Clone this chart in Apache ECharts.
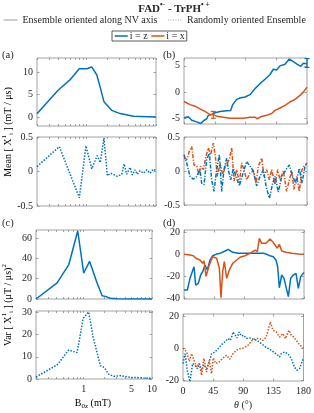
<!DOCTYPE html>
<html><head><meta charset="utf-8">
<script src="https://cdn.jsdelivr.net/npm/echarts@6/dist/echarts.min.js"></script>
<style>html,body{margin:0;padding:0;background:#fff}#c{width:314px;height:413px}</style>
</head><body><div id="c"></div>
<script>
// ---------------- DATA ----------------
// (a) Mean, oriented ensemble (i = z)
const aOriB   = [0.2, 0.4, 0.59, 0.8, 1.03, 1.21, 1.43, 1.59, 1.81, 2.02, 2.33, 3.07, 4.75, 10];
const aOriVal = [0.75, 6.0, 8.3, 10.8, 10.8, 11.2, 9.4, 6.75, 3.4, 2.6, 1.5, 0.77, 0.2, 0.0];
// (a) Mean, random ensemble
const aRndB   = [0.2, 0.417, 0.804, 1.0, 1.21, 1.45, 1.6, 1.81, 2.02, 2.26, 2.81, 3.24, 3.5, 3.82, 4.26, 4.59, 5.02, 5.42, 5.92, 6.6, 7.38, 8.22, 9.17, 10];
const aRndVal = [0.07, 0.36, -0.38, 0.37, 0.04, 0.23, 0.13, 0.485, -0.06, -0.025, -0.07, -0.04, 0.11, -0.04, 0.06, -0.05, 0.025, -0.04, 0.01, -0.025, 0.025, -0.025, 0.035, 0.01];
// (c) Var, oriented ensemble
const cOriB   = [0.2, 0.408, 0.604, 0.817, 1.0, 1.22, 1.57, 1.86, 2.07, 2.45, 3.0, 5.0, 10];
const cOriVal = [0, 15.8, 33.8, 67, 25.6, 37, 15.8, 3.2, 2.6, 0.7, 0.3, 0.1, 0.05];
// (c) Var, random ensemble
const cRndB   = [0.2, 0.408, 0.604, 0.80, 0.98, 1.18, 1.37, 1.75, 2.0, 2.32, 2.74, 3.44, 4.07, 4.82, 6.04, 7.55, 10];
const cRndVal = [0.9, 6.4, 13.1, 11.9, 27.3, 30.3, 19.1, 6.0, 5.2, 2.2, 1.2, 1.5, 1.2, 0.7, 0.7, 0.4, 0.2];

// (b) Mean vs theta, oriented
const bOriZTh  = [0, 6.3, 11.3, 18.6, 24.4, 29.3, 33.2, 35.6, 40.5, 45.4, 52.7, 62.5, 68.3, 71.3, 77.1, 82, 89.3, 96.6, 103.9, 111.2, 118.5, 125.9, 130.7, 135.6, 140.5, 147.8, 154.1, 160, 165.9, 170.8, 174.6, 180];
const bOriZVal = [-4.9, -4.7, -5.4, -5.7, -6.0, -5.4, -5.1, -4.45, -4.3, -3.95, -3.7, -3.55, -3.5, -2.4, -1.4, -1.15, -0.95, -0.5, 0.65, 1.6, 2.45, 3.35, 4.35, 4.2, 5.0, 5.3, 6.3, 5.8, 5.3, 4.9, 5.5, 5.4];
const bOriXTh  = [0, 8.8, 16.1, 23.4, 30.7, 38, 42.9, 47.8, 57.5, 67.3, 77.1, 86.8, 96.6, 103.9, 107.3, 113.7, 121, 128.3, 133.2, 140.5, 147.8, 155.1, 162.4, 169.8, 175.6, 180];
const bOriXVal = [-1.8, -2.4, -2.7, -3.2, -3.7, -4.3, -4.3, -4.6, -4.8, -5.0, -5.0, -5.0, -4.8, -4.8, -5.1, -4.65, -4.45, -4.1, -3.5, -3.05, -2.55, -1.9, -1.4, -0.63, 0.13, 0.95];
// error bars (theta, low, high)
const bErrZ = [[180, 4.7, 6.4]];
const bErrX = [[42.9, -5.0, -3.7]];
// (b) Mean vs theta, random
const bRndZTh  = [0, 3.9, 8.8, 13.7, 18.6, 23.4, 25.9, 29.3, 33.2, 37.1, 40.5, 43.9, 47.8, 51.7, 55.2, 58.5, 62.5, 64.8, 68.3, 72.2, 76.1, 81, 85.9, 91.7, 96.6, 101.5, 106.3, 111.2, 116.1, 120, 124.9, 129.8, 133.2, 138, 143, 149.3, 154.1, 159, 163.9, 168.8, 172.7, 177.1, 180];
const bRndZVal = [0.24, 0.12, -0.08, -0.12, -0.08, 0.02, -0.18, -0.2, 0.17, 0.26, -0.13, -0.3, 0.02, 0.24, -0.3, 0.02, 0.19, 0.02, -0.13, 0.04, -0.08, -0.22, -0.05, 0.14, 0.07, 0, -0.22, -0.08, 0.02, -0.22, -0.4, -0.18, -0.08, -0.31, -0.08, 0.02, 0.09, -0.08, -0.18, 0.04, -0.18, 0.07, 0.11];
const bRndXTh  = [0, 3.9, 7.8, 11.3, 14.6, 18.6, 22, 24.4, 28.3, 32.2, 35.6, 39, 42.9, 45.8, 48.8, 52.7, 56.6, 61.5, 66.3, 69.8, 73.2, 77.1, 81, 84.4, 87.8, 91.7, 96.6, 101.5, 105.4, 108.8, 113.7, 117.1, 121, 124.9, 128.3, 133.2, 137.1, 140.5, 145.4, 150.2, 154.1, 157.6, 160.9, 164.9, 168.8, 172.7, 175.6, 180];
const bRndXVal = [0.19, 0.17, 0.29, 0.36, 0.09, 0.07, -0.05, 0.07, 0.02, 0.22, 0.34, 0.24, 0.41, 0.22, -0.08, 0.12, -0.05, 0.09, 0.17, 0.34, -0.15, 0.02, -0.18, 0.12, 0.02, -0.13, -0.03, 0, -0.18, 0.07, 0.19, -0.08, 0.02, -0.13, 0.02, -0.2, 0.02, -0.13, 0, -0.3, -0.13, 0, -0.27, -0.08, -0.3, 0.02, 0.07, 0.12];

// (d) Var vs theta, oriented
const dOriZTh  = [0, 5, 9, 11.5, 15, 17.5, 21.5, 25, 28, 31.5, 35, 39, 43, 48, 54, 61.5, 66.5, 73, 81.5, 94, 106.5, 119, 124, 129, 134, 138, 140.5, 143, 146.5, 150, 153, 156.5, 160, 164, 168, 171.5, 175, 180];
const dOriZVal = [-32.4, -32.4, -21.8, -23.4, -11.3, -28, -26.4, -18.8, -15.8, -9.7, -14.3, -5.2, -1.3, 0, 0.9, 3, 4.5, 1.8, 0.9, 0.9, 0.9, 0.9, 0, -1.3, -2.2, -5.2, -11.3, -30.4, -18.8, -21.8, -20.3, -38.5, -21.8, -18.8, -17.3, -31, -20.3, -16.4];
const dOriXTh  = [0, 9, 14, 18, 24, 28, 30, 33, 38, 43, 49, 53, 55.5, 58, 60.5, 64, 68, 73, 79, 84, 91.5, 99, 106.5, 110, 113, 116.5, 123, 129, 133, 136.5, 140, 143, 146.5, 153, 161.5, 171.5, 180];
const dOriXVal = [0, -0.6, -1.3, -3.6, -5.2, -8.2, -6, -20, -9.7, -2.2, -3.6, -12.7, -39.5, -15.8, -6.7, -21.8, -14.3, -8.2, -5.2, -2.7, -1.3, 0.9, 3.9, 2.4, 14.5, 10, 10, 13.9, 11.5, 8.5, 5.5, 9.1, 3, 1.8, 0.9, 0.3, 0];
// (d) Var vs theta, random
const dRndZTh  = [0, 3, 6.4, 10.4, 14.4, 17.9, 21.3, 24.3, 27.8, 31.2, 35.2, 39.1, 42.7, 47.6, 52.5, 57.6, 62.5, 67.4, 71, 74.8, 77.4, 80.8, 83.8, 87.3, 90.7, 94.8, 99.7, 105.6, 110.5, 117, 123.5, 129.4, 135.4, 140.3, 144.3, 146.8, 151.7, 156.7, 161.7, 166.6, 170, 174, 178, 180];
const dRndZVal = [-9.7, -3.5, -13.9, -21, -9.7, -10.8, -12.9, -9.7, -13.9, -10.4, -12.9, -8.7, -3.5, -2.5, -0.4, 2.1, 3.8, 5.9, 4.8, 10, 11.1, 6.3, 10, 7.5, 7.9, 5.9, 6.3, 5.4, 4.8, 2.8, 0.6, -0.8, -2.5, -4.1, -5.6, -3.5, -2.5, -3.5, -6.6, -11.9, -13.9, -12.9, -8.3, -6.6];
const dRndXTh  = [0, 5.5, 9.4, 12.9, 16.4, 20.4, 24.3, 27.8, 31.2, 35.2, 39.1, 42.7, 45.1, 49.1, 54, 59, 65, 69.9, 74.8, 79.8, 84.8, 90.7, 97.1, 103.6, 108.6, 114.5, 119.4, 124.4, 128.4, 130.5, 134.4, 139.4, 144.3, 149.3, 153.2, 158.1, 161.7, 165.1, 169.1, 174, 180];
const dRndXVal = [0, -2.5, -8.3, -3.5, -7.7, -11.9, -9.7, -17, -6.6, -15, -7.7, -16, -6.2, -9.7, -8.7, -6.6, -4.5, -7.0, -3.5, -1.4, -0.4, 0, 1.7, 4.8, 5.9, 5.9, 4.8, 6.9, 13.1, 16.3, 11.1, 10, 6.9, 9, 5.9, 11.1, 7.9, 6.9, 4.8, 2.1, 0];

// tick labels
const logTickLabels   = [1, 5, 10];
const thetaTickLabels = [0, 45, 90, 135, 180];
const yTicksA1 = [0, 5, 10];
const yTicksMean = [-0.5, 0, 0.5];
const yTicksB1 = [-5, 0, 5];
const yTicksC1 = [0, 20, 40, 60];
const yTicksC2 = [0, 10, 20, 30];
const yTicksD1 = [-40, -20, 0, 20];
const yTicksD2 = [-20, 0, 20];

// ---------------- CHART ----------------
const FONT = 'Liberation Serif';
const BLUE = '#0072BD', ORANGE = '#D95319', TXT = '#262626', AX = '#8c8c8c';
const logMinor = [0.2,0.3,0.4,0.5,0.6,0.7,0.8,0.9,1,2,3,4,5,6,7,8,9,10];

const panels = [
  {g:[37,58,119,68],  log:true,  y:[-2,13.2],     yt:yTicksA1,  xl:null},
  {g:[37,137,119,69], log:true,  y:[-0.5,0.5],    yt:yTicksMean,xl:null},
  {g:[184,58,123,66], log:false, y:[-6.1,6.5],    yt:yTicksB1,  xl:null},
  {g:[184,137,123,68],log:false, y:[-0.5,0.5],    yt:yTicksMean,xl:null},
  {g:[36,230,116,69], log:true,  y:[0,68],        yt:yTicksC1,  xl:null},
  {g:[36,311,116,68], log:true,  y:[0,30.7],      yt:yTicksC2,  xl:logTickLabels},
  {g:[184,230,120,69],log:false, y:[-40.6,22.1],  yt:yTicksD1,  xl:null},
  {g:[183,314,121,67],log:false, y:[-20.6,21.25], yt:yTicksD2,  xl:thetaTickLabels}
];

const grid = [], xAxis = [], yAxis = [];
panels.forEach((p, i) => {
  grid.push({left:p.g[0], top:p.g[1], width:p.g[2], height:p.g[3], show:true,
    borderColor:AX, borderWidth:0.8, backgroundColor:'transparent', containLabel:false});
  const xBase = p.log ? {type:'log', logBase:10, min:0.2, max:10} : {type:'value', min:0, max:180};
  const xt = p.log ? logMinor : thetaTickLabels;
  const tickLen = p.log ? 2 : 2.5;
  ['bottom','top'].forEach((pos, k) => {
    xAxis.push(Object.assign({}, xBase, {
      gridIndex:i, position:pos,
      axisLine:{show:false, onZero:false}, splitLine:{show:false},
      axisTick:{show:true, inside:true, length:tickLen, customValues:xt, lineStyle:{color:AX, width:0.8}},
      axisLabel:(k===0 && p.xl) ? {show:true, customValues:p.xl, margin:5, color:TXT,
        fontFamily:FONT, fontSize:10} : {show:false}
    }));
  });
  ['left','right'].forEach((pos, k) => {
    yAxis.push({type:'value', gridIndex:i, position:pos, min:p.y[0], max:p.y[1],
      axisLine:{show:false, onZero:false}, splitLine:{show:false},
      axisTick:{show:true, inside:true, length:2.5, customValues:p.yt, lineStyle:{color:AX, width:0.8}},
      axisLabel:k===0 ? {show:true, customValues:p.yt, margin:4, color:TXT, fontFamily:FONT, fontSize:10} : {show:false}
    });
  });
});

function zip(a, b){ return a.map((v, i) => [v, b[i]]); }
function line(i, name, color, xs, ys, type){
  return {type:'line', name, xAxisIndex:2*i, yAxisIndex:2*i, data:zip(xs, ys),
    symbol:'none', showSymbol:false, color, lineStyle:{color, width:1.5, type:type||'solid'},
    silent:true, z:3};
}
function errRender(params, api){
  const x = api.value(0), lo = api.value(1), hi = api.value(2);
  const p1 = api.coord([x, lo]), p2 = api.coord([x, hi]);
  const w = 2.5;
  const st = {stroke: api.visual('color'), lineWidth: 1.2, fill:null};
  return {type:'group', children:[
    {type:'line', shape:{x1:p1[0], y1:p1[1], x2:p2[0], y2:p2[1]}, style:st},
    {type:'line', shape:{x1:p1[0]-w, y1:p1[1], x2:p1[0]+w, y2:p1[1]}, style:st},
    {type:'line', shape:{x1:p2[0]-w, y1:p2[1], x2:p2[0]+w, y2:p2[1]}, style:st}
  ]};
}
const DOT = [1.5, 1.5];
const DASHDOT = [4, 1.5, 1.2, 1.5];

const series = [
  line(0, 'i = z', BLUE, aOriB, aOriVal),
  line(1, 'i = z', BLUE, aRndB, aRndVal, DOT),
  line(2, 'i = z', BLUE, bOriZTh, bOriZVal),
  line(2, 'i = x', ORANGE, bOriXTh, bOriXVal),
  {type:'custom', xAxisIndex:4, yAxisIndex:4, data:bErrZ, renderItem:errRender, color:BLUE, clip:false, z:4},
  {type:'custom', xAxisIndex:4, yAxisIndex:4, data:bErrX, renderItem:errRender, color:ORANGE, clip:false, z:4},
  line(3, 'i = x', ORANGE, bRndXTh, bRndXVal, DASHDOT),
  line(3, 'i = z', BLUE, bRndZTh, bRndZVal, DASHDOT),
  line(4, 'i = z', BLUE, cOriB, cOriVal),
  line(5, 'i = z', BLUE, cRndB, cRndVal, DOT),
  line(6, 'i = z', BLUE, dOriZTh, dOriZVal),
  line(6, 'i = x', ORANGE, dOriXTh, dOriXVal),
  line(7, 'i = z', BLUE, dRndZTh, dRndZVal, DOT),
  line(7, 'i = x', ORANGE, dRndXTh, dRndXVal, DOT),
  // legend-only entries for the line style key
  {type:'line', name:'Ensemble oriented along NV axis', xAxisIndex:0, yAxisIndex:0, data:[], symbol:'none', color:'#9a9a9a', lineStyle:{color:'#9a9a9a', width:1}},
  {type:'line', name:'Randomly oriented Ensemble', xAxisIndex:0, yAxisIndex:0, data:[], symbol:'none', color:'#9a9a9a', lineStyle:{color:'#9a9a9a', width:1, type:[1,1.5]}}
];

const richY = {
  n:{fontFamily:FONT, fontSize:10, color:TXT},
  sp:{fontFamily:FONT, fontSize:7, color:TXT, verticalAlign:'top', lineHeight:14},
  sb:{fontFamily:FONT, fontSize:7, color:TXT, verticalAlign:'bottom', lineHeight:14}
};
function gtext(x, y, text, opts){
  return Object.assign({type:'text', x, y, silent:true, style:Object.assign({text, fontFamily:FONT, fontSize:10,
    fill:TXT, align:'center', verticalAlign:'middle'}, opts||{})});
}

const graphic = [
  {type:'text', x:174, y:8, silent:true, style:{
    text:'{b|FAD}{s|\u2022-}{b| - TrPH}{s|\u2022 +}', align:'center', verticalAlign:'middle',
    rich:{b:{fontFamily:FONT, fontSize:11, fontWeight:'bold', fill:TXT, lineHeight:14, verticalAlign:'bottom'},
          s:{fontFamily:FONT, fontSize:7.5, fontWeight:'bold', fill:TXT, lineHeight:14, verticalAlign:'top'}}}},
  gtext(2, 55, '(a)', {align:'left', fontSize:10.5}),
  gtext(163, 55, '(b)', {align:'left', fontSize:10.5}),
  gtext(2, 223, '(c)', {align:'left', fontSize:10.5}),
  gtext(163, 223, '(d)', {align:'left', fontSize:10.5}),
  {type:'text', x:8, y:132, rotation:Math.PI/2, silent:true, style:{
    text:'{n|Mean [ X}{sp|1}{sb|i}{n| ] (mT / \u03bcs)}', align:'center', verticalAlign:'middle',
    rich:richY}},
  {type:'text', x:8, y:305, rotation:Math.PI/2, silent:true, style:{
    text:'{n|Var [ X}{sp|1}{sb|i}{n| ] (\u03bcT / \u03bcs)}{sp|2}', align:'center', verticalAlign:'middle',
    rich:richY}},
  {type:'text', x:93, y:403, silent:true, style:{
    text:'{n|B}{sb|0z}{n| (mT)}', align:'center', verticalAlign:'middle', rich:richY}},
  {type:'text', x:243, y:405, silent:true, style:{
    text:'{i|\u03b8}{n| (\u00b0)}', align:'center', verticalAlign:'middle',
    rich:{n:{fontFamily:FONT, fontSize:10, fill:TXT}, i:{fontFamily:FONT, fontSize:10, fontStyle:'italic', fill:TXT}}}}
];

const chart = echarts.init(document.getElementById('c'), null, {renderer:'canvas'});
chart.setOption({
  animation:false,
  backgroundColor:'#fff',
  grid, xAxis, yAxis, series, graphic,
  legend:[
    {data:['Ensemble oriented along NV axis', 'Randomly oriented Ensemble'], left:3, top:15,
     itemWidth:14, itemHeight:8, itemGap:10, padding:0, selectedMode:false,
     itemStyle:{opacity:0}, lineStyle:{width:1},
     textStyle:{fontFamily:FONT, fontSize:10, color:TXT}},
    {data:['i = z', 'i = x'], left:112, top:31, itemWidth:13, itemHeight:8, itemGap:3,
     padding:[0,2], borderColor:'#333', borderWidth:0.8, selectedMode:false,
     itemStyle:{opacity:0}, lineStyle:{width:1.5},
     textStyle:{fontFamily:FONT, fontSize:10, color:TXT, padding:[0,0,0,-3]}}
  ]
});
</script></body></html>
